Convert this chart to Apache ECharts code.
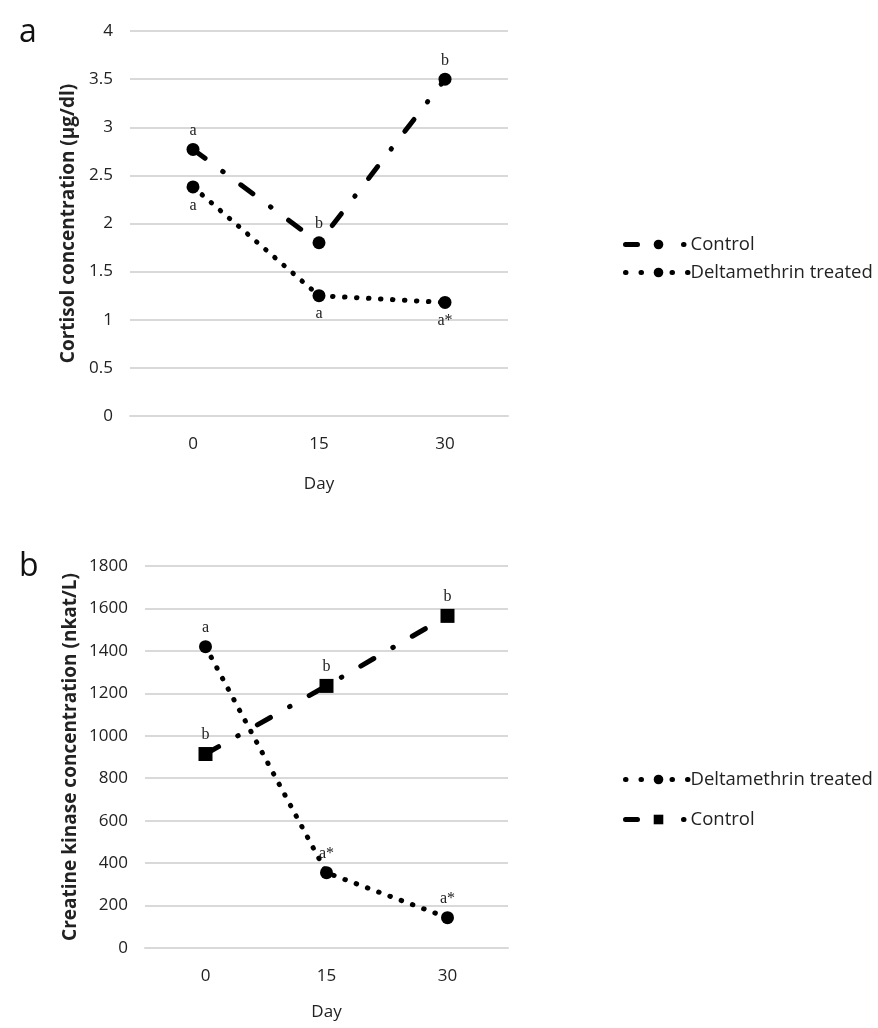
<!DOCTYPE html>
<html>
<head>
  <meta charset="UTF-8">
  <title>Cortisol and creatine kinase</title>
  <style>
    body { margin: 0; background: #fff; }
    #chart-a { position: absolute; left: 0; top: 0; width: 878px; height: 500px; }
    #chart-b { position: absolute; left: 0; top: 500px; width: 878px; height: 528px; }
  </style>
  <script src="https://cdn.jsdelivr.net/npm/echarts@6/dist/echarts.min.js"></script>
</head>
<body>
<div id="chart-a"></div>
<div id="chart-b"></div>
<script>
  // data
  var days = ['0', '15', '30'];

  var cortisolControl = [2.77, 1.8, 3.5];
  var cortisolDelta = [2.38, 1.25, 1.18];
  var cortisolControlSig = ['a', 'b', 'b'];
  var cortisolDeltaSig = ['a', 'a', 'a*'];

  var ckDelta = [1420, 355, 143];
  var ckControl = [914, 1235, 1565];
  var ckDeltaSig = ['a', 'a*', 'a*'];
  var ckControlSig = ['b', 'b', 'b'];

  var cortisolAxis = { min: 0, max: 4, interval: 0.5 };
  var ckAxis = { min: 0, max: 1800, interval: 200 };

  var sans = 'Open Sans';
  var dashDot = [15, 22, 0.5, 22];
  var dotted = [0.5, 11.5];
  // legend keys: short dash + marker + one dot for control
  var keyDashDot = [12, 46, 0.5, 20];
  var keyDotted = [0.5, 15];

  function withSig(values, sig, pos) {
    return values.map(function (v, i) {
      return { value: v, sig: sig[i], label: { position: pos } };
    });
  }

  function lineSeries(name, values, sig, pos, dash, symbol, size) {
    return {
      name: name,
      type: 'line',
      data: withSig(values, sig, pos),
      symbol: symbol,
      symbolSize: size,
      itemStyle: { color: '#000' },
      lineStyle: { color: '#000', width: 5, type: dash, cap: 'round' },
      label: {
        show: true,
        distance: 4,
        fontFamily: 'Liberation Serif',
        fontSize: 16,
        color: '#222',
        formatter: function (p) { return p.data.sig; }
      },
      animation: false
    };
  }

  function legendKeys(names) {
    return names.map(function (n) {
      return {
        name: n,
        lineStyle: { width: 5, cap: 'round', type: n === 'Control' ? keyDashDot : keyDotted }
      };
    });
  }

  function baseOption(letter, cfg, yCfg, yName, series) {
    return {
      animation: false,
      title: {
        text: letter, left: 14, top: cfg.letterTop,
        textStyle: { fontFamily: sans, fontSize: 32, fontWeight: 'normal', color: '#111' }
      },
      legend: {
        orient: 'vertical', left: 618, top: cfg.legendTop,
        itemWidth: 66, itemHeight: 12, itemGap: cfg.legendGap,
        data: legendKeys(series.map(function (s) { return s.name; })),
        textStyle: { fontFamily: sans, fontSize: 18.5, color: '#222', padding: [0, 0, 0, -6] }
      },
      grid: { left: cfg.left, right: 370, top: cfg.top, bottom: cfg.bottom },
      xAxis: {
        type: 'category', data: days, boundaryGap: true,
        name: 'Day', nameLocation: 'middle', nameGap: cfg.dayGap,
        nameTextStyle: { fontFamily: sans, fontSize: 17, color: '#222' },
        axisLine: { lineStyle: { color: '#d9d9d9', width: 2 } },
        axisTick: { show: false },
        axisLabel: { fontFamily: sans, fontSize: 17, color: '#222', margin: 20 }
      },
      yAxis: {
        type: 'value', min: yCfg.min, max: yCfg.max, interval: yCfg.interval,
        name: yName, nameLocation: 'middle', nameGap: cfg.nameGap,
        nameTextStyle: { fontFamily: sans, fontSize: cfg.nameSize, fontWeight: 'bold', color: '#222' },
        axisLine: { show: false },
        axisTick: { show: false },
        splitLine: { lineStyle: { color: '#d9d9d9', width: 2 } },
        axisLabel: {
          fontFamily: sans, fontSize: 17, color: '#222', margin: 17,
          formatter: function (v) { return String(v); }
        }
      },
      series: series
    };
  }

  var chartA = echarts.init(document.getElementById('chart-a'));
  chartA.setOption(baseOption('a',
    { left: 130, top: 31, bottom: 84, nameGap: 52, nameSize: 19, letterTop: 12,
      dayGap: 60, legendTop: 230, legendGap: 9 },
    cortisolAxis, 'Cortisol concentration (µg/dl)', [
      lineSeries('Control', cortisolControl, cortisolControlSig, 'top', dashDot, 'circle', 13),
      lineSeries('Deltamethrin treated', cortisolDelta, cortisolDeltaSig, 'bottom', dotted, 'circle', 13)
    ]));

  var chartB = echarts.init(document.getElementById('chart-b'));
  chartB.setOption(baseOption('b',
    { left: 145, top: 66, bottom: 80, nameGap: 65, nameSize: 19, letterTop: 46,
      dayGap: 56, legendTop: 265, legendGap: 21 },
    ckAxis, 'Creatine kinase concentration (nkat/L)', [
      lineSeries('Deltamethrin treated', ckDelta, ckDeltaSig, 'top', dotted, 'circle', 13),
      lineSeries('Control', ckControl, ckControlSig, 'top', dashDot, 'rect', 14)
    ]));
</script>
</body>
</html>
